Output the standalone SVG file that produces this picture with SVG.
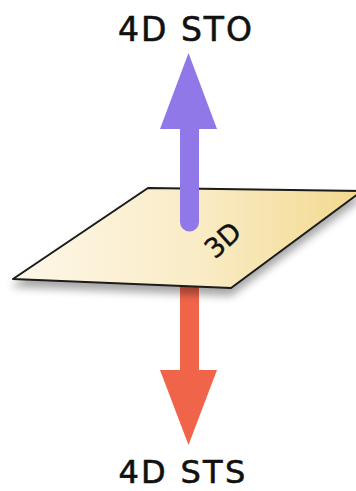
<svg xmlns="http://www.w3.org/2000/svg" width="356" height="491" viewBox="0 0 356 491">
  <style>
    .lbl { font-family: "DejaVu Sans", "Liberation Sans", sans-serif; font-size: 33px; fill: #111; text-anchor: middle; letter-spacing: 2px; stroke: #111; stroke-width: 0.6px; }
    .lbl-b { font-size: 32px; letter-spacing: 2.3px; }
    .plane-lbl { font-family: "DejaVu Sans", "Liberation Sans", sans-serif; font-size: 27px; fill: #111; text-anchor: middle; stroke: #111; stroke-width: 0.4px; }
  </style>
  <defs>
    <linearGradient id="planeFill" x1="0" y1="0" x2="1" y2="0">
      <stop offset="0" stop-color="#fdf7e8"/>
      <stop offset="0.55" stop-color="#f9ebc4"/>
      <stop offset="1" stop-color="#f3d98e"/>
    </linearGradient>
    <filter id="shadow" x="-20%" y="-20%" width="140%" height="160%">
      <feGaussianBlur in="SourceAlpha" stdDeviation="4"/>
      <feOffset dx="0" dy="7" result="b"/>
      <feComponentTransfer><feFuncA type="linear" slope="0.35"/></feComponentTransfer>
      <feMerge><feMergeNode/><feMergeNode in="SourceGraphic"/></feMerge>
    </filter>
  </defs>

  <g id="connectors">
    <g id="arrow-down">
      <line x1="189.5" y1="260" x2="189.5" y2="372" stroke="#f0644a" stroke-width="19"/>
      <polygon points="160,370 217,370 188.5,445" fill="#f0644a"/>
    </g>
  </g>

  <g id="plane-3d">
    <polygon points="148,188 362,191 231,288 13,279" fill="url(#planeFill)" stroke="#1a1a1a" stroke-width="2" stroke-linejoin="round" filter="url(#shadow)"/>
  </g>

  <g id="connectors-up">
    <g id="arrow-up">
      <line x1="189.5" y1="222" x2="189.5" y2="125" stroke="#9078e8" stroke-width="19" stroke-linecap="round"/>
      <polygon points="160,129 217,129 188.5,53" fill="#9078e8"/>
    </g>
  </g>

  <g id="plane-label">
    <text class="plane-lbl" transform="translate(229,247) rotate(-42)">3D</text>
  </g>

  <g id="node-sto">
    <text class="lbl" x="186" y="41">4D STO</text>
  </g>
  <g id="node-sts">
    <text class="lbl lbl-b" x="183" y="483">4D STS</text>
  </g>
</svg>
